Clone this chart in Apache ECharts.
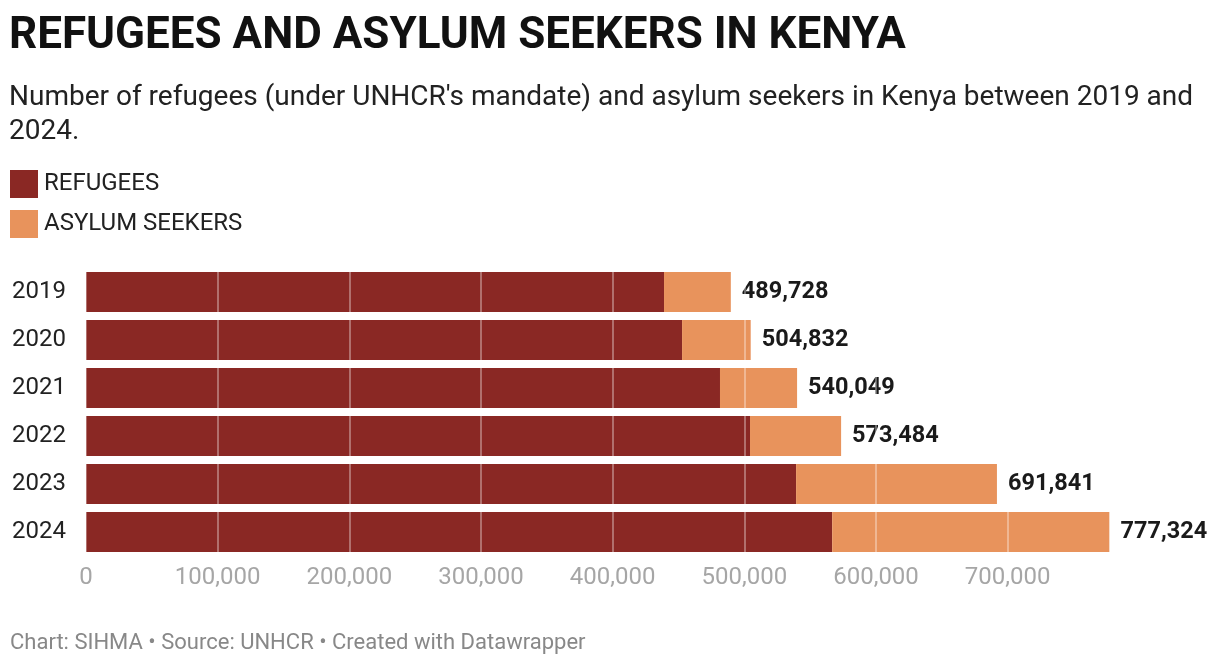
<!DOCTYPE html>
<html>
<head>
<meta charset="utf-8">
<script src="https://cdn.jsdelivr.net/npm/echarts@6/dist/echarts.min.js"></script>
<style>
html,body{margin:0;padding:0;background:#fff;}
#chart{width:1220px;height:664px;}
</style>
</head>
<body>
<div id="chart"></div>
<script>
const years = ['2019','2020','2021','2022','2023','2024'];
const refugees = [439000, 452700, 481500, 504300, 539300, 566700];
const asylumSeekers = [50728, 52132, 58549, 69184, 152541, 210624];
const xTicks = [0, 100000, 200000, 300000, 400000, 500000, 600000, 700000];

const chart = echarts.init(document.getElementById('chart'));
const fmt = v => v.toLocaleString('en-US');
const font = 'Roboto, "Noto Sans", sans-serif';

chart.setOption({
  backgroundColor: '#fff',
  animation: false,
  textStyle: { fontFamily: font },
  title: [
    { text: 'REFUGEES AND ASYLUM SEEKERS IN KENYA', left: 9, top: 12, padding: 0,
      textStyle: { fontSize: 44, fontWeight: 'bold', color: '#111', lineHeight: 50, fontFamily: font } },
    { text: "Number of refugees (under UNHCR's mandate) and asylum seekers in Kenya between 2019 and\n2024.", left: 9, top: 81, padding: 0,
      textStyle: { fontSize: 28, fontWeight: 'normal', color: '#222', lineHeight: 34, fontFamily: font } },
    { text: 'Chart: SIHMA • Source: UNHCR • Created with Datawrapper', left: 10, top: 631, padding: 0,
      textStyle: { fontSize: 22, fontWeight: 'normal', color: '#888', lineHeight: 24, fontFamily: font } }
  ],
  legend: {
    orient: 'vertical', left: 10, top: 170, itemWidth: 28, itemHeight: 28, itemGap: 12,
    icon: 'rect', padding: 0,
    textStyle: { fontSize: 24, color: '#222', fontFamily: font, padding: [3,0,0,1] },
    data: ['REFUGEES', 'ASYLUM SEEKERS']
  },
  grid: { left: 86, right: 110.5, top: 268, height: 288, containLabel: false },
  xAxis: {
    type: 'value', min: 0, max: 777324, interval: 100000, z: 5,
    axisLine: { show: false }, axisTick: { show: false },
    splitLine: { show: true, lineStyle: { color: 'rgba(255,255,255,0.45)', width: 1.5 } },
    axisLabel: {
      margin: 10, fontSize: 24, color: '#a6a6a6', lineHeight: 24, fontFamily: font,
      formatter: v => xTicks.includes(v) ? fmt(v) : ''
    }
  },
  yAxis: {
    type: 'category', data: years, inverse: true,
    axisLine: { show: false }, axisTick: { show: false },
    axisLabel: { align: 'left', margin: 74, fontSize: 24, color: '#222', fontFamily: font }
  },
  series: [
    { name: 'REFUGEES', type: 'bar', stack: 'total', data: refugees, barWidth: 40, z: 2,
      itemStyle: { color: '#8a2824' } },
    { name: 'ASYLUM SEEKERS', type: 'bar', stack: 'total', data: asylumSeekers, barWidth: 40, z: 2,
      itemStyle: { color: '#e8935c' },
      label: { show: true, position: 'right', distance: 11, fontSize: 23.5, fontWeight: 'bold', color: '#1a1a1a', fontFamily: font,
        formatter: p => fmt(refugees[p.dataIndex] + asylumSeekers[p.dataIndex]) } }
  ]
});
</script>
</body>
</html>
